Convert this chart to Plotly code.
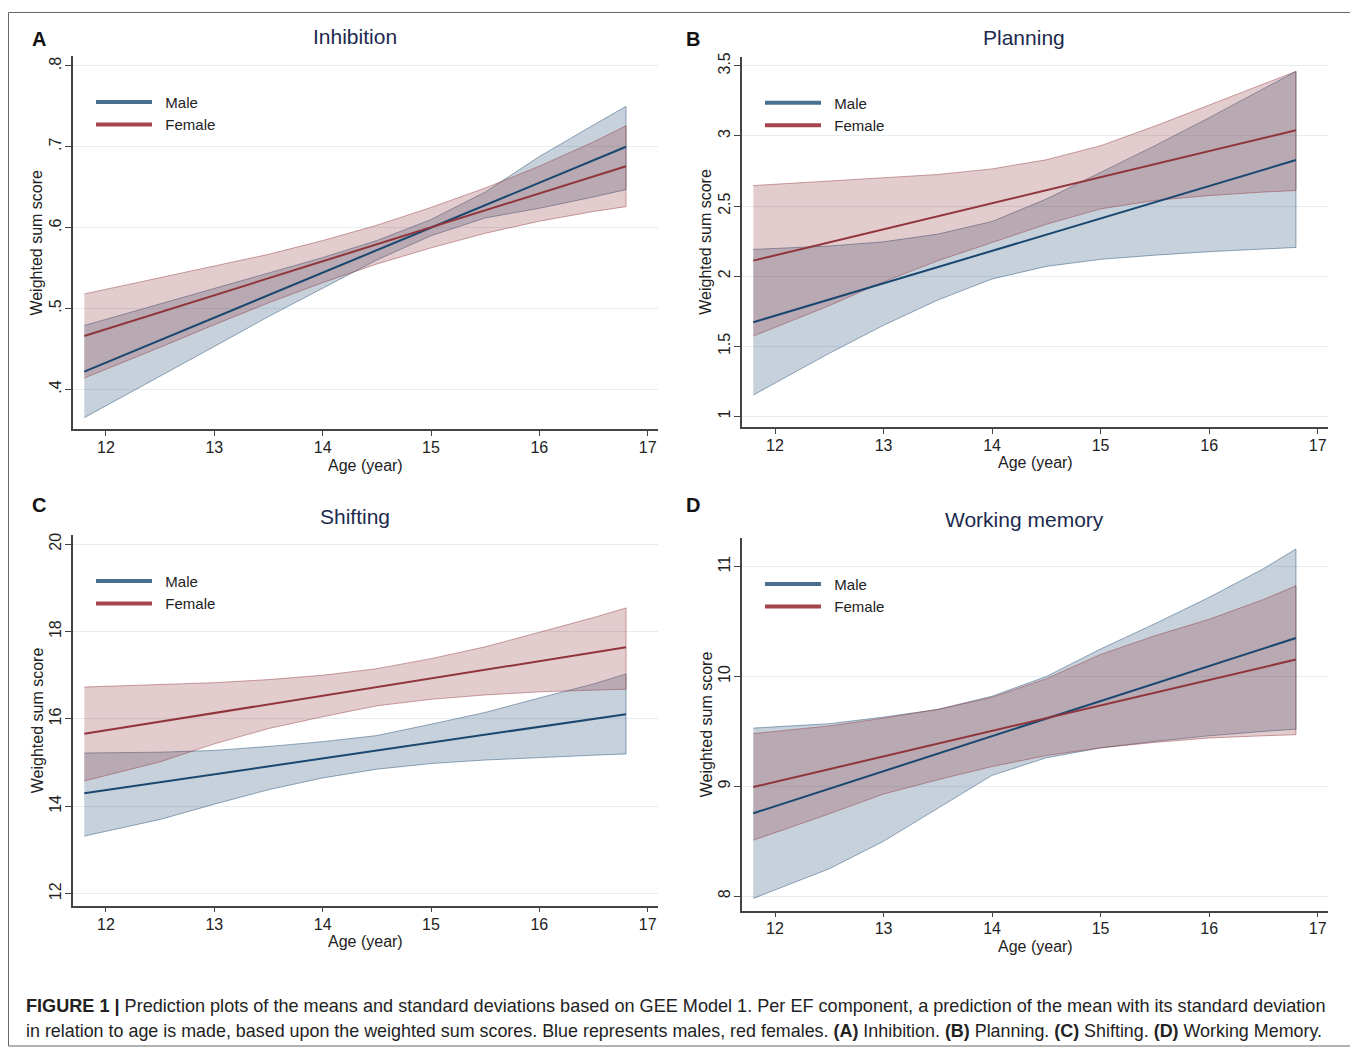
import plotly.graph_objects as go

# ---------------- data ----------------
ages = [11.8, 12.5, 13, 13.5, 14, 14.5, 15, 15.5, 16, 16.5, 16.8]
line_ages = [11.8, 16.8]

# A: Inhibition
inh_male_mean = [0.422, 0.700]
inh_female_mean = [0.466, 0.676]
inh_male_upper = [0.479, 0.506, 0.525, 0.544, 0.563, 0.584, 0.610, 0.644, 0.688, 0.727, 0.750]
inh_male_lower = [0.365, 0.416, 0.453, 0.490, 0.525, 0.560, 0.590, 0.612, 0.624, 0.638, 0.647]
inh_female_upper = [0.518, 0.538, 0.552, 0.567, 0.584, 0.603, 0.625, 0.649, 0.676, 0.706, 0.726]
inh_female_lower = [0.414, 0.452, 0.480, 0.507, 0.532, 0.555, 0.575, 0.593, 0.608, 0.620, 0.626]

# B: Planning
pla_male_mean = [1.672, 2.828]
pla_female_mean = [2.111, 3.040]
pla_male_upper = [2.191, 2.215, 2.245, 2.300, 2.390, 2.550, 2.740, 2.930, 3.130, 3.340, 3.460]
pla_male_lower = [1.153, 1.450, 1.650, 1.830, 1.980, 2.070, 2.120, 2.150, 2.175, 2.195, 2.205]
pla_female_upper = [2.646, 2.680, 2.700, 2.725, 2.765, 2.830, 2.930, 3.070, 3.220, 3.370, 3.460]
pla_female_lower = [1.573, 1.790, 1.960, 2.110, 2.240, 2.370, 2.480, 2.540, 2.575, 2.600, 2.611]

# C: Shifting
shi_male_mean = [14.30, 16.11]
shi_female_mean = [15.66, 17.64]
shi_male_upper = [15.22, 15.24, 15.28, 15.37, 15.48, 15.62, 15.88, 16.15, 16.48, 16.80, 17.03]
shi_male_lower = [13.32, 13.70, 14.05, 14.38, 14.65, 14.85, 14.98, 15.06, 15.12, 15.17, 15.20]
shi_female_upper = [16.73, 16.78, 16.83, 16.90, 17.00, 17.15, 17.38, 17.65, 17.98, 18.32, 18.54]
shi_female_lower = [14.58, 15.02, 15.43, 15.78, 16.05, 16.30, 16.45, 16.55, 16.62, 16.66, 16.68]

# D: Working memory
wm_male_mean = [8.755, 10.35]
wm_female_mean = [8.994, 10.154]
wm_male_upper = [9.53, 9.57, 9.63, 9.70, 9.82, 10.00, 10.25, 10.48, 10.72, 10.98, 11.16]
wm_male_lower = [7.98, 8.25, 8.50, 8.80, 9.10, 9.26, 9.35, 9.41, 9.46, 9.50, 9.52]
wm_female_upper = [9.48, 9.55, 9.62, 9.70, 9.81, 9.98, 10.20, 10.37, 10.52, 10.70, 10.825]
wm_female_lower = [8.51, 8.75, 8.93, 9.06, 9.18, 9.28, 9.35, 9.40, 9.44, 9.46, 9.47]

titles = ["Inhibition", "Planning", "Shifting", "Working memory"]
letters = ["A", "B", "C", "D"]
legend_names = ["Male", "Female"]
inh_ticks = [0.4, 0.5, 0.6, 0.7, 0.8]
inh_ticktext = [".4", ".5", ".6", ".7", ".8"]
pla_ticks = [1, 1.5, 2, 2.5, 3, 3.5]
pla_ticktext = ["1", "1.5", "2", "2.5", "3", "3.5"]
shi_ticks = [12, 14, 16, 18, 20]
shi_ticktext = ["12", "14", "16", "18", "20"]
wm_ticks = [8, 9, 10, 11]
wm_ticktext = ["8", "9", "10", "11"]
x_ticks = [12, 13, 14, 15, 16, 17]

# ---------------- styling ----------------
OFF = 8                      # page body margin added by the browser
W, H = 1358 - OFF, 1049 - OFF
FONT = "Liberation Sans, Arial, sans-serif"
MALE = "#1a476f"
FEMALE = "#90353b"
MALE_FILL = "rgba(26,71,111,0.25)"
FEMALE_FILL = "rgba(144,53,59,0.25)"
MALE_EDGE = "rgba(26,71,111,0.45)"
FEMALE_EDGE = "rgba(144,53,59,0.45)"
GRID = "#e6edf1"
AXIS = "#444444"
TITLE_COL = "#1c2a4e"
TXT = "#222222"

def fx(p):
    return (p - OFF) / W

def fy(p):
    return 1 - (p - OFF) / H

panels = [
    dict(male_mean=inh_male_mean, female_mean=inh_female_mean,
         mu=inh_male_upper, ml=inh_male_lower, fu=inh_female_upper, fl=inh_female_lower,
         ticks=inh_ticks, ticktext=inh_ticktext, yrange=[0.3505, 0.8125],
         px=(73, 658), py=(52, 427)),
    dict(male_mean=pla_male_mean, female_mean=pla_female_mean,
         mu=pla_male_upper, ml=pla_male_lower, fu=pla_female_upper, fl=pla_female_lower,
         ticks=pla_ticks, ticktext=pla_ticktext, yrange=[0.925, 3.566],
         px=(742, 1328), py=(52.7, 424.6)),
    dict(male_mean=shi_male_mean, female_mean=shi_female_mean,
         mu=shi_male_upper, ml=shi_male_lower, fu=shi_female_upper, fl=shi_female_lower,
         ticks=shi_ticks, ticktext=shi_ticktext, yrange=[11.73, 20.21],
         px=(73, 658), py=(533, 905)),
    dict(male_mean=wm_male_mean, female_mean=wm_female_mean,
         mu=wm_male_upper, ml=wm_male_lower, fu=wm_female_upper, fl=wm_female_lower,
         ticks=wm_ticks, ticktext=wm_ticktext, yrange=[7.87, 11.26],
         px=(742, 1328), py=(536, 910)),
]

fig = go.Figure()
layout = dict(
    width=W, height=H, margin=dict(l=0, r=0, t=0, b=0),
    paper_bgcolor="white", plot_bgcolor="white",
    font=dict(family=FONT, color=TXT),
)
annotations = []
shapes = []

for i, p in enumerate(panels):
    n = "" if i == 0 else str(i + 1)
    xa, ya = "x" + n, "y" + n
    leg = "legend" + n
    # bands
    fig.add_trace(go.Scatter(
        x=ages + ages[::-1], y=p["mu"] + p["ml"][::-1], xaxis=xa, yaxis=ya,
        fill="toself", fillcolor=MALE_FILL, line=dict(color=MALE_EDGE, width=1),
        mode="lines", showlegend=False, hoverinfo="skip"))
    fig.add_trace(go.Scatter(
        x=ages + ages[::-1], y=p["fu"] + p["fl"][::-1], xaxis=xa, yaxis=ya,
        fill="toself", fillcolor=FEMALE_FILL, line=dict(color=FEMALE_EDGE, width=1),
        mode="lines", showlegend=False, hoverinfo="skip"))
    # mean lines
    fig.add_trace(go.Scatter(
        x=line_ages, y=p["male_mean"], xaxis=xa, yaxis=ya, mode="lines",
        line=dict(color=MALE, width=2), showlegend=False))
    fig.add_trace(go.Scatter(
        x=line_ages, y=p["female_mean"], xaxis=xa, yaxis=ya, mode="lines",
        line=dict(color=FEMALE, width=2), showlegend=False))
    # legend entries
    fig.add_trace(go.Scatter(
        x=[None], y=[None], xaxis=xa, yaxis=ya, mode="lines",
        name="\u00a0\u00a0" + legend_names[0],
        line=dict(color="#4a6f8f", width=4), legend=leg))
    fig.add_trace(go.Scatter(
        x=[None], y=[None], xaxis=xa, yaxis=ya, mode="lines",
        name="\u00a0\u00a0" + legend_names[1],
        line=dict(color="#a4444c", width=4), legend=leg))

    x0, x1 = p["px"]
    y0, y1 = p["py"]
    layout["xaxis" + n] = dict(
        domain=[fx(x0), fx(x1)], anchor=ya, range=[11.696, 17.095],
        tickvals=x_ticks, ticks="outside", ticklen=5, tickwidth=1.3, tickcolor=AXIS,
        showline=True, linecolor=AXIS, linewidth=1.5, showgrid=False, zeroline=False,
        tickfont=dict(size=16, color=TXT), ticklabelstandoff=-2,
    )
    layout["yaxis" + n] = dict(
        domain=[fy(y1), fy(y0)], anchor=xa, range=p["yrange"],
        tickvals=p["ticks"], ticktext=p["ticktext"], tickangle=-90,
        ticks="outside", ticklen=6, tickwidth=1.3, tickcolor=AXIS,
        showline=True, linecolor=AXIS, linewidth=1.5,
        showgrid=True, gridcolor=GRID, gridwidth=1, zeroline=False,
        tickfont=dict(size=16, color=TXT), ticklabelstandoff=-2,
    )
    layout[leg] = dict(
        x=fx(x0 + 18), y=fy(y0 + 30), xanchor="left", yanchor="top",
        bgcolor="rgba(0,0,0,0)", borderwidth=0, itemwidth=56,
        font=dict(size=15, color=TXT), tracegroupgap=0,
    )
    # axis titles
    annotations.append(dict(
        text="Age (year)", x=(fx(x0) + fx(x1)) / 2, y=fy(y1 + 36), xref="paper", yref="paper",
        xanchor="center", yanchor="middle", showarrow=False, font=dict(size=16, color=TXT)))
    annotations.append(dict(
        text="Weighted sum score", x=fx(x0 - 36), y=(fy(y0) + fy(y1)) / 2,
        xref="paper", yref="paper", textangle=-90,
        xanchor="center", yanchor="middle", showarrow=False, font=dict(size=16, color=TXT)))
    # title
    annotations.append(dict(
        text=titles[i], x=(fx(x0) + fx(x1)) / 2 - 0.008, y=fy(y0 - 19), xref="paper", yref="paper",
        xanchor="center", yanchor="middle", showarrow=False,
        font=dict(size=21, color=TITLE_COL)))
    # panel letter
    annotations.append(dict(
        text="<b>" + letters[i] + "</b>", x=fx(30 if i % 2 == 0 else 684),
        y=fy(35 if i < 2 else 503), xref="paper", yref="paper",
        xanchor="left", yanchor="middle", showarrow=False,
        font=dict(size=20, color="#111111")))

caption1 = ("<b>FIGURE 1 |</b> Prediction plots of the means and standard deviations based on GEE Model 1. "
            "Per EF component, a prediction of the mean with its standard deviation")
caption2 = ("in relation to age is made, based upon the weighted sum scores. Blue represents males, red females. "
            "<b>(A)</b> Inhibition. <b>(B)</b> Planning. <b>(C)</b> Shifting. <b>(D)</b> Working Memory.")
for txt, yy, fs in [(caption1, 1006, 18.1), (caption2, 1031, 17.9)]:
    annotations.append(dict(
        text=txt, x=fx(24), y=fy(yy), xref="paper", yref="paper",
        xanchor="left", yanchor="middle", showarrow=False,
        font=dict(size=fs, color=TXT, family=FONT)))

shapes.append(dict(type="rect", xref="paper", yref="paper",
                   x0=fx(8.5), x1=fx(1350.5), y0=fy(1046), y1=fy(8.5),
                   line=dict(color="#666666", width=1)))

layout["annotations"] = annotations
layout["shapes"] = shapes
fig.update_layout(**layout)
fig.write_html("out.html")
